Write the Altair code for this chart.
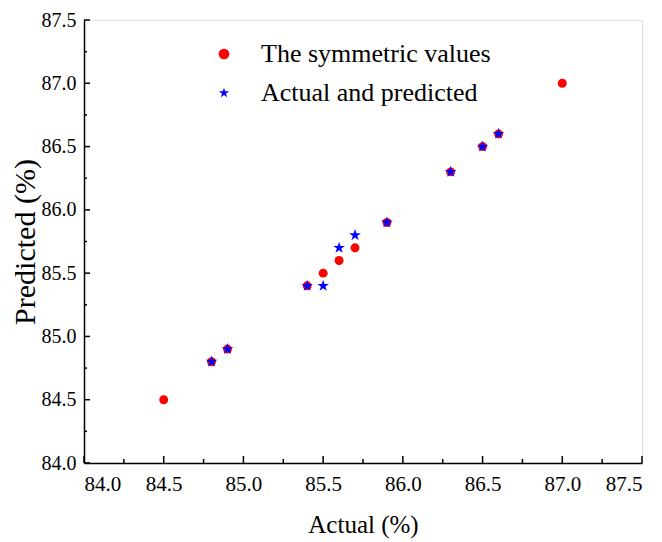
import altair as alt
import pandas as pd

# ---- data ----
sym_vals = [84.5, 84.8, 84.9, 85.4, 85.5, 85.6, 85.7, 85.9, 86.3, 86.5, 86.6, 87.0]
actual = [84.8, 84.9, 85.4, 85.5, 85.6, 85.7, 85.9, 86.3, 86.5, 86.6]
predicted = [84.8, 84.9, 85.4, 85.4, 85.7, 85.8, 85.9, 86.3, 86.5, 86.6]
series_names = ["The symmetric values", "Actual and predicted"]
major_ticks = [84.0, 84.5, 85.0, 85.5, 86.0, 86.5, 87.0, 87.5]
minor_ticks = [84.25, 84.75, 85.25, 85.75, 86.25, 86.75, 87.25]

df_sym = pd.DataFrame({"x": sym_vals, "y": sym_vals, "series": series_names[0]})
df_ap = pd.DataFrame({"x": actual, "y": predicted, "series": series_names[1]})
df_major = pd.DataFrame({"v": major_ticks})
df_minor = pd.DataFrame({"v": minor_ticks})

W, H = 558, 443
FONT = "Liberation Serif"
dom = [84.0, 87.5]
STAR = ("M0,-1L0.225,-0.309L0.951,-0.309L0.363,0.118L0.588,0.809L0,0.382"
        "L-0.588,0.809L-0.363,0.118L-0.951,-0.309L-0.225,-0.309Z")

xs = alt.Scale(domain=dom, nice=False, zero=False)
ys = alt.Scale(domain=dom, nice=False, zero=False)

color = alt.Color(
    "series:N",
    scale=alt.Scale(domain=series_names, range=["#ff0000", "#0000ff"]),
    legend=alt.Legend(
        title=None, orient="none", legendX=127, legendY=21,
        labelFont=FONT, labelFontSize=26, labelColor="black", labelLimit=0,
        labelOffset=24, rowPadding=13, symbolSize=115,
        symbolStrokeWidth=0,
    ),
)
shape = alt.Shape(
    "series:N",
    scale=alt.Scale(domain=series_names, range=["circle", STAR]),
    legend=None,
)

label_x = alt.Axis(
    values=major_ticks, format=".1f", ticks=False, tickSize=0,
    labelFont=FONT, labelFontSize=21, labelColor="black", labelPadding=10,
    domainColor="black", domainWidth=1.5, grid=False,
    title="Actual (%)", titleFont=FONT, titleFontSize=25, titleFontWeight="normal",
    titleColor="black", titlePadding=18,
)
label_y = alt.Axis(
    values=major_ticks, format=".1f", ticks=False, tickSize=0,
    labelFont=FONT, labelFontSize=20, labelColor="black", labelPadding=8,
    domainColor="black", domainWidth=1.5, grid=False,
    title="Predicted (%)", titleFont=FONT, titleFontSize=30, titleFontWeight="normal",
    titleColor="black", titlePadding=1,
)

circles = alt.Chart(df_sym).mark_point(filled=True, opacity=1, size=80).encode(
    x=alt.X("x:Q", scale=xs, axis=label_x),
    y=alt.Y("y:Q", scale=ys, axis=label_y),
    color=color, shape=shape,
)
stars = alt.Chart(df_ap).mark_point(filled=True, opacity=1, size=150).encode(
    x=alt.X("x:Q", scale=xs),
    y=alt.Y("y:Q", scale=ys),
    color=color, shape=shape,
)

def xticks(df, length):
    return alt.Chart(df).mark_rule(color="black", strokeWidth=1.5).encode(
        x=alt.X("v:Q", scale=xs), y=alt.value(H), y2=alt.value(H - length)
    )

def yticks(df, length):
    return alt.Chart(df).mark_rule(color="black", strokeWidth=1.5).encode(
        y=alt.Y("v:Q", scale=ys), x=alt.value(0), x2=alt.value(length)
    )

chart = (
    alt.layer(
        circles, stars,
        xticks(df_major, 7), xticks(df_minor, 4),
        yticks(df_major, 6), yticks(df_minor, 3),
    )
    .properties(
        width=W, height=H,
        autosize=alt.AutoSizeParams(type="none"),
        padding={"left": 76, "top": 12, "right": 12, "bottom": 80},
    )
    .configure_view(stroke="black", strokeWidth=1.5)
    .configure(background="white")
)

chart.save("out.html", embed_options={"renderer": "svg", "actions": False})
